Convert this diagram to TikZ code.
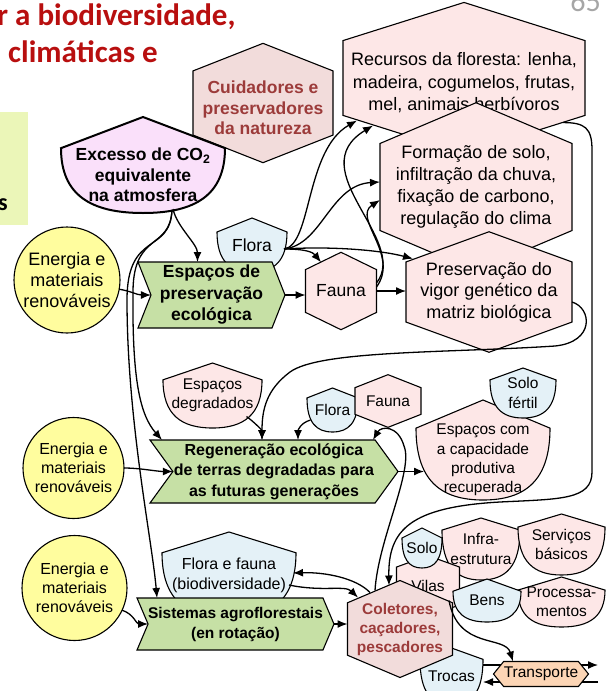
\documentclass[tikz,border=0pt]{standalone}
\usepackage{fontspec}
\setmainfont{Liberation Sans}
\newfontfamily\calibri{Carlito}
\usetikzlibrary{arrows.meta,shapes.symbols}

\definecolor{verde}{HTML}{C6E0A5}
\definecolor{rosa}{HTML}{FDE7E7}
\definecolor{rosaescuro}{HTML}{F2DCDB}
\definecolor{azul}{HTML}{E4F1F7}
\definecolor{amarelo}{HTML}{FFFD9E}
\definecolor{lilas}{HTML}{FAE0FA}
\definecolor{laranja}{HTML}{FCD5B5}
\definecolor{vinho}{HTML}{9C3B3A}
\definecolor{titulo}{HTML}{B80F0F}
\definecolor{caixa}{HTML}{EBF6B8}
\definecolor{pagina}{HTML}{A6A6A6}

\newcommand{\tam}[2]{\fontsize{#1}{#2}\selectfont}
% primeira linha mais alta: empurra o texto para baixo
\newcommand{\desce}[1]{\rule{0pt}{#1}}

% simbolo de produtor: ponta em cima, fundo redondo
\makeatletter
\pgfkeys{/pgf/producer peak/.initial=0.36}
\pgfdeclareshape{producer}{
  \inheritsavedanchors[from=rectangle]
  \inheritanchorborder[from=rectangle]
  \inheritanchor[from=rectangle]{center}
  \inheritanchor[from=rectangle]{north}
  \inheritanchor[from=rectangle]{south}
  \inheritanchor[from=rectangle]{east}
  \inheritanchor[from=rectangle]{west}
  \inheritanchor[from=rectangle]{north east}
  \inheritanchor[from=rectangle]{north west}
  \inheritanchor[from=rectangle]{south east}
  \inheritanchor[from=rectangle]{south west}
  \backgroundpath{
    \southwest \edef\pr@l{\the\pgf@x}\edef\pr@b{\the\pgf@y}
    \northeast \edef\pr@r{\the\pgf@x}\edef\pr@t{\the\pgf@y}
    \pgfmathsetmacro\pr@m{(\pr@l+\pr@r)/2}
    \pgfmathsetmacro\pr@rx{(\pr@r-\pr@l)/2}
    \pgfmathsetmacro\pr@c{\pr@t-\pgfkeysvalueof{/pgf/producer peak}*\pr@rx}
    \pgfmathsetmacro\pr@ry{\pr@c-\pr@b}
    \pgfmathsetmacro\pr@v{\pr@c-0.72*\pr@ry}
    \pgfmathsetmacro\pr@hr{\pr@m+0.64*\pr@rx}
    \pgfmathsetmacro\pr@hl{\pr@m-0.64*\pr@rx}
    \pgfpathmoveto{\pgfpoint{\pr@l}{\pr@c pt}}
    \pgfpathlineto{\pgfpoint{\pr@m pt}{\pr@t}}
    \pgfpathlineto{\pgfpoint{\pr@r}{\pr@c pt}}
    \pgfpathcurveto{\pgfpoint{\pr@r}{\pr@v pt}}{\pgfpoint{\pr@hr pt}{\pr@b}}{\pgfpoint{\pr@m pt}{\pr@b}}
    \pgfpathcurveto{\pgfpoint{\pr@hl pt}{\pr@b}}{\pgfpoint{\pr@l}{\pr@v pt}}{\pgfpoint{\pr@l}{\pr@c pt}}
    \pgfpathclose
  }
}
\makeatother

\tikzset{
  no/.style={draw, line width=1.1pt, align=center, inner sep=0pt, outer sep=0pt,
    font=\tam{15.5}{19.3}},
  consumidor/.style={no, shape=signal, signal to=north and south, fill=rosa},
  produtor/.style={no, shape=producer, fill=azul},
  fonte/.style={no, circle, fill=amarelo, font=\tam{16}{19}},
  interacao/.style={no, shape=signal, signal from=west, signal to=east, fill=verde,
    font=\bfseries\tam{16}{20.5}},
  titulo/.style={anchor=base west, inner sep=0pt, text=titulo,
    font=\calibri\bfseries\tam{31}{37}},
  liga/.style={->, line width=1.3pt},
}

\begin{document}
\begin{tikzpicture}[x=1pt,y=-1pt,>={Latex[length=10pt,width=8pt]}]
\useasboundingbox (0,0) rectangle (609,691);

% titulo e margem
\node[titulo] (tit1) at (-3,25) {r a biodiversidade,};
\node[titulo] (tit2) at (8,62) {climáticas e};
\node[anchor=base east, inner sep=0pt, text=pagina, font=\calibri\tam{30}{30}] (pag) at (601,11) {65};
\node[fill=caixa, minimum width=33pt, minimum height=113pt, inner sep=0pt] (lateral) at (11.5,168.5) {};
\node[anchor=base east, inner sep=0pt, font=\calibri\bfseries\tam{24}{24}] (lat) at (8,210) {s};

% servicos da floresta
\node[consumidor, minimum width=242pt, minimum height=146pt, signal pointer angle=145,
  font=\tam{18}{22.5}] (recursos) at (464,78)
  {\desce{23pt}Recursos da floresta: lenha,\\madeira, cogumelos, frutas,\\mel, animais herbívoros};
\node[consumidor, minimum width=192pt, minimum height=155pt, signal pointer angle=134,
  font=\tam{18}{22}] (formacao) at (476,187)
  {Formação de solo,\\infiltração da chuva,\\fixação de carbono,\\regulação do clima};
\node[consumidor, minimum width=166pt, minimum height=110pt, signal pointer angle=140,
  font=\tam{18}{21.5}] (preservacao) at (489,292)
  {Preservação do\\vigor genético da\\matriz biológica};
\node[consumidor, fill=rosaescuro, text=vinho, minimum width=140pt, minimum height=104pt,
  signal pointer angle=137, font=\bfseries\tam{17.5}{20.5}] (cuidadores) at (263,103)
  {\desce{23pt}Cuidadores e\\preservadores\\da natureza};
\node[produtor, fill=lilas, line width=2pt, producer peak=0.38, minimum width=164pt,
  minimum height=96pt, font=\bfseries\tam{17.5}{20.5}] (co2) at (143,165)
  {\desce{33pt}Excesso de CO\textsubscript{2}\\equivalente\\na atmosfera};

% espacos de preservacao
\node[produtor, minimum width=70pt, minimum height=54pt, producer peak=0.4,
  font=\tam{17.5}{21}] (flora1) at (252,245) {Flora};
\node[interacao, minimum width=147pt, minimum height=66pt, signal pointer angle=137,
  font=\bfseries\tam{17.5}{21.5}] (espacos) at (211.5,295) {Espaços de\\preservação\\ecológica};
\node[consumidor, minimum width=71pt, minimum height=67pt, signal pointer angle=128,
  font=\tam{17.5}{21}] (fauna1) at (341,291) {Fauna};
\node[fonte, minimum size=106pt, font=\tam{18}{21}] (fonte1) at (67,280) {Energia e\\materiais\\renováveis};

% regeneracao
\node[produtor, fill=rosa, minimum width=99pt, minimum height=65pt, producer peak=0.34]
  (degradados) at (212.5,395.5) {Espaços\\degradados};
\node[produtor, minimum width=51pt, minimum height=44pt, producer peak=0.39] (flora2) at (332.5,410) {Flora};
\node[consumidor, minimum width=66pt, minimum height=44pt, signal pointer angle=137] (fauna2) at (388,401) {Fauna};
\node[produtor, fill=rosa, minimum width=134pt, minimum height=100pt, producer peak=0.42]
  (espacoscom) at (483,450) {\desce{31pt}Espaços com\\a capacidade\\produtiva\\recuperada};
\node[produtor, minimum width=66pt, minimum height=50pt] (solofertil) at (523,393) {Solo\\fértil};
\node[interacao, minimum width=248pt, minimum height=63pt, signal pointer angle=108] (regeneracao) at (274,471.5)
  {Regeneração ecológica\\de terras degradadas para\\as futuras generações};
\node[fonte, minimum size=101pt] (fonte2) at (73.5,468) {Energia e\\materiais\\renováveis};

% sistemas agroflorestais
\node[produtor, minimum width=134pt, minimum height=86pt, producer peak=0.31,
  font=\tam{16}{20}] (floraefauna) at (229,575) {Flora e fauna\\(biodiversidade)};
\node[interacao, minimum width=195pt, minimum height=52pt, signal pointer angle=134,
  font=\bfseries\tam{15.5}{20}] (sistemas) at (235.5,624) {Sistemas agroflorestais\\(en rotação)};
\node[fonte, minimum size=105pt] (fonte3) at (74.5,588) {Energia e\\materiais\\renováveis};

% vilas e coletores
\node[produtor, fill=rosa, minimum width=78pt, minimum height=62pt, producer peak=0.31] (infra) at (481,549) {Infra-\\estrutura};
\node[produtor, fill=rosa, minimum width=87pt, minimum height=61pt, producer peak=0.3] (servicos) at (561.5,544.5) {Serviços\\básicos};
\node[produtor, fill=rosa, minimum width=87pt, minimum height=50pt, producer peak=0.3] (processamentos) at (561.5,602) {Processa-\\mentos};
\node[consumidor, minimum width=63pt, minimum height=50pt, signal pointer angle=140] (vilas) at (428,586) {Vilas};
\node[produtor, minimum width=40pt, minimum height=40pt, producer peak=0.5] (solo) at (422,548) {Solo};
\node[produtor, minimum width=68pt, minimum height=43pt] (bens) at (487,600.5) {Bens};
\node[produtor, minimum width=63pt, minimum height=57pt] (trocas) at (451.5,676.5) {Trocas};
\node[consumidor, fill=rosaescuro, text=vinho, minimum width=105pt, minimum height=86pt,
  signal pointer angle=134, font=\bfseries\tam{15.5}{19}] (coletores) at (400,629)
  {Coletores,\\caçadores,\\pescadores};

% ligacoes
\coordinate (fl) at ([xshift=-3pt,yshift=-4pt]flora1.east);
\coordinate (saida) at (598,665);
\coordinate (entrada) at (598,682);

\draw[liga] ([xshift=30pt,yshift=4pt]co2.south) .. controls +(4,18) and +(0,-18) .. ([xshift=-14pt]espacos.north);
\draw[liga] ([xshift=29pt,yshift=3pt]co2.south) .. controls (170,250) and (134,232) .. (133,290)
  .. controls (132,380) and (140,415) .. ([xshift=-112pt]regeneracao.north);
\draw[liga] ([xshift=29pt,yshift=3pt]co2.south) .. controls (170,255) and (127,230) .. (127,300)
  .. controls (127,420) and (152,540) .. ([xshift=-78.5pt]sistemas.north);
\draw[liga] (fonte1.-10) .. controls +(12,2) and +(-14,0) .. (espacos.west);
\draw[liga] (espacos.east) -- (espacos.east -| fauna1.west);
\draw[liga] (fauna1.east) -- (fauna1.east -| preservacao.west);
\draw[liga] (fl) .. controls +(22,0) and +(-8,-10) .. ([xshift=-20pt,yshift=-10pt]fauna1.north);
\draw[liga] (fl) .. controls (330,246) and (380,250) .. ([xshift=-76pt,yshift=-27pt]preservacao.north);
\draw[liga] (fl) .. controls (312,245) and (305,150) .. ([xshift=-107pt,yshift=33pt]recursos.south);
\draw[liga] (fl) .. controls (322,245) and (330,185) .. ([yshift=5pt]formacao.west);
\draw[liga] ([yshift=8pt]fauna1.east) .. controls (410,240) and (300,170) .. ([xshift=-91pt,yshift=28pt]recursos.south);
\draw[liga] ([yshift=4pt]fauna1.east) .. controls (400,255) and (352,218) .. ([yshift=-13pt]formacao.west);
\draw[liga] ([xshift=99pt,yshift=31pt]recursos.south) .. controls +(22,0) and +(0,-22) .. (592,150)
  -- (592,472) .. controls (592,500) and (560,499) .. (500,502)
  .. controls (410,507) and (388,530) .. ([xshift=-11pt,yshift=-5pt]coletores.north);
\draw[liga] ([yshift=-10pt]preservacao.east) .. controls (592,308) and (595,342) .. (555,346)
  .. controls (450,353) and (320,350) .. (290,372)
  .. controls (266,390) and (262,410) .. ([xshift=-12pt]regeneracao.north);
\draw[liga] ([xshift=34pt,yshift=-21pt]degradados.center) .. controls +(7,5) and +(0,-10) .. ([xshift=-12pt]regeneracao.north);
\draw[liga] ([xshift=-22pt,yshift=-10pt]flora2.center) .. controls +(-10,3) and +(0,-10) .. ([xshift=24pt]regeneracao.north);
\draw[liga, shorten >=-8pt] (regeneracao.east) -- (espacoscom.west |- regeneracao.east);
\draw[liga] (fonte2.east) .. controls +(16,0) and +(-16,0) .. (regeneracao.west);
\draw[liga] ([xshift=-25pt,yshift=-10pt]coletores.north) .. controls (378,540) and (414,470) .. (404,446)
  .. controls (398,425) and (381,426) .. ([xshift=99pt]regeneracao.north);
\draw[liga] ([xshift=-30pt,yshift=-12pt]coletores.north) .. controls (356,578) and (325,572) .. ([xshift=64pt,yshift=2pt]floraefauna.center);
\draw[liga] ([xshift=60pt,yshift=-10pt]floraefauna.center) .. controls (322,592) and (345,585) .. ([xshift=-42pt,yshift=-17pt]coletores.north);
\draw[liga] (sistemas.east) -- (sistemas.east -| coletores.west);
\draw[liga] (fonte3.-25) .. controls +(12,4) and +(-12,0) .. (sistemas.west);
\draw[liga] (trocas.east |- saida) -- (saida);
\draw[liga] (entrada) -- (trocas.east |- entrada);

\node[no, shape=signal, signal to=west and east, fill=laranja, minimum width=95pt, minimum height=25pt,
  signal pointer angle=102] (transporte) at (541,674) {Transporte};
\draw[liga] ([xshift=49pt,yshift=-20pt]coletores.north) .. controls (458,650) and (505,635) .. ([xshift=-28pt]transporte.north);
\end{tikzpicture}
\end{document}
